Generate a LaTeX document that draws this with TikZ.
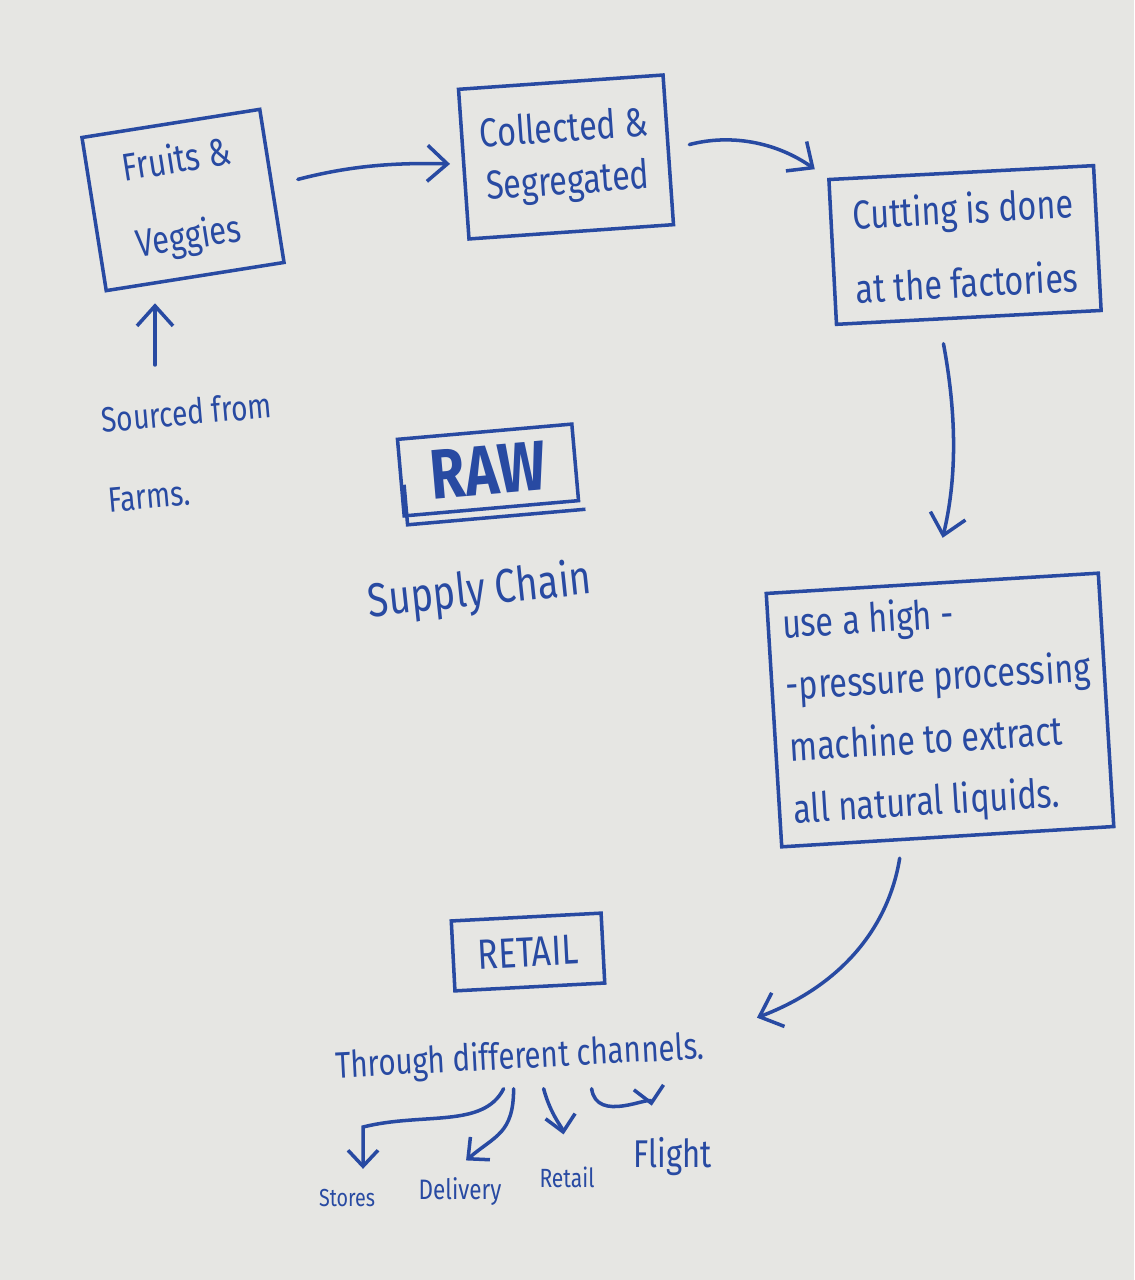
\documentclass[tikz,border=0pt]{standalone}
\usepackage{fontspec}
\usepackage{tikz}
\usetikzlibrary{arrows.meta, positioning, calc}
\usepackage{xcolor}
\newfontfamily\hand[FakeStretch=0.8]{Fira Sans}
\definecolor{ink}{RGB}{40,74,162}
\definecolor{paper}{RGB}{230,230,227}
\newcommand{\handat}[2]{\hand\fontsize{#1}{#2}\selectfont}

\begin{document}
\begin{tikzpicture}[every node/.style={text=ink},
  pen/.style={draw=ink, line width=1pt},
  box/.style={pen, rectangle, align=center, inner sep=4pt},
  arr/.style={draw=ink, line width=1pt, line cap=round,
              -{Straight Barb[length=2mm,width=3.6mm]}},
  subarr/.style={arr, -{Straight Barb[length=1.6mm,width=3mm]}}]

  \fill[paper] (0,0) rectangle (11.34,-12.8);
  \useasboundingbox (0,0) rectangle (11.34,-12.8);

  % stages
  \node[box, rotate=9, minimum width=1.8cm, minimum height=1.55cm,
        font=\handat{11}{22}] (fruits) at (1.83,-2.0) {Fruits \&\\Veggies};
  \node[box, rotate=4, minimum width=2.05cm, minimum height=1.5cm,
        font=\handat{11.5}{15}] (collect) at (5.66,-1.57) {Collected \&\\Segregated};
  \node[box, rotate=3, minimum width=2.65cm, minimum height=1.45cm,
        font=\handat{11.5}{21}] (cut) at (9.65,-2.45) {Cutting is done\\at the factories};
  \node[box, rotate=3.5, minimum width=3.2cm, minimum height=2.5cm, align=left,
        font=\handat{11.5}{17.6}] (hpp) at (9.4,-7.1)
       {use a high -\\-pressure processing\\machine to extract\\all natural liquids.};

  \node[box, rotate=5, minimum width=1.75cm, minimum height=0.75cm,
        font=\handat{20}{24}\bfseries] (raw) at (4.88,-4.7) {RAW};
  \draw[pen] ([shift={(0.05,-0.07)}]raw.west) -- ([shift={(0.05,-0.07)}]raw.south west)
             -- ([shift={(0.05,-0.07)}]raw.south east);
  \node[rotate=6, font=\handat{13.5}{16}] (chain) at (4.8,-5.92) {Supply Chain};

  \node[rotate=5, align=left, font=\handat{10}{22.8}] (src) at (1.9,-4.52) {Sourced from\\Farms.};

  \node[box, rotate=3, minimum width=1.5cm, minimum height=0.7cm,
        font=\handat{12}{14}] (retail) at (5.28,-9.52) {RETAIL};
  \node[rotate=3, font=\handat{10.5}{13}] (chan) at (5.2,-10.58) {Through different channels.};

  \node[font=\handat{7}{9}] (stores) at (3.47,-11.98) {Stores};
  \node[font=\handat{8}{10}] (deliv) at (4.6,-11.92) {Delivery};
  \node[font=\handat{7.5}{9}] (retl) at (5.67,-11.77) {Retail};
  \node[font=\handat{11}{13}] (flight) at (6.73,-11.57) {Flight};

  % flow
  \coordinate (up) at (1.55,-3.65);
  \draw[arr, shorten >=0.25cm] (up) -- (up |- fruits.south);
  \draw[arr, shorten <=0.25cm, shorten >=0.12cm] (fruits.east) to[bend left=8] (collect.west);
  \draw[arr, shorten <=0.2cm, shorten >=0.15cm] (collect.east) to[bend left=25] (cut.north west);
  \draw[arr, shorten <=0.25cm, shorten >=0.45cm] ([xshift=-0.3cm]cut.south) to[bend left=12] (hpp.north);
  \draw[arr, shorten <=0.2cm] ([xshift=-0.45cm]hpp.south) to[bend left=30] ([shift={(0.4,0.3)}]chan.east);

  % channels
  \coordinate (sbend) at (3.63,-11.27);
  \draw[subarr, shorten >=0.08cm] ([xshift=-0.18cm]chan.south)
       .. controls +(-0.2,-0.4) and +(0.6,0.15) .. (sbend) -- (sbend |- stores.north);
  \draw[subarr, shorten >=0.08cm] ([xshift=-0.08cm]chan.south)
       .. controls +(0,-0.45) and +(0.35,0.3) .. (deliv.north);
  \draw[subarr, shorten >=0.2cm] ([xshift=0.22cm]chan.south) to[out=-75, in=100] (retl.north);
  \draw[subarr, shorten >=0.2cm] ([xshift=0.7cm]chan.south)
       .. controls +(0.05,-0.35) and +(-0.05,0.3) .. ([xshift=-0.18cm]flight.north);
\end{tikzpicture}
\end{document}
